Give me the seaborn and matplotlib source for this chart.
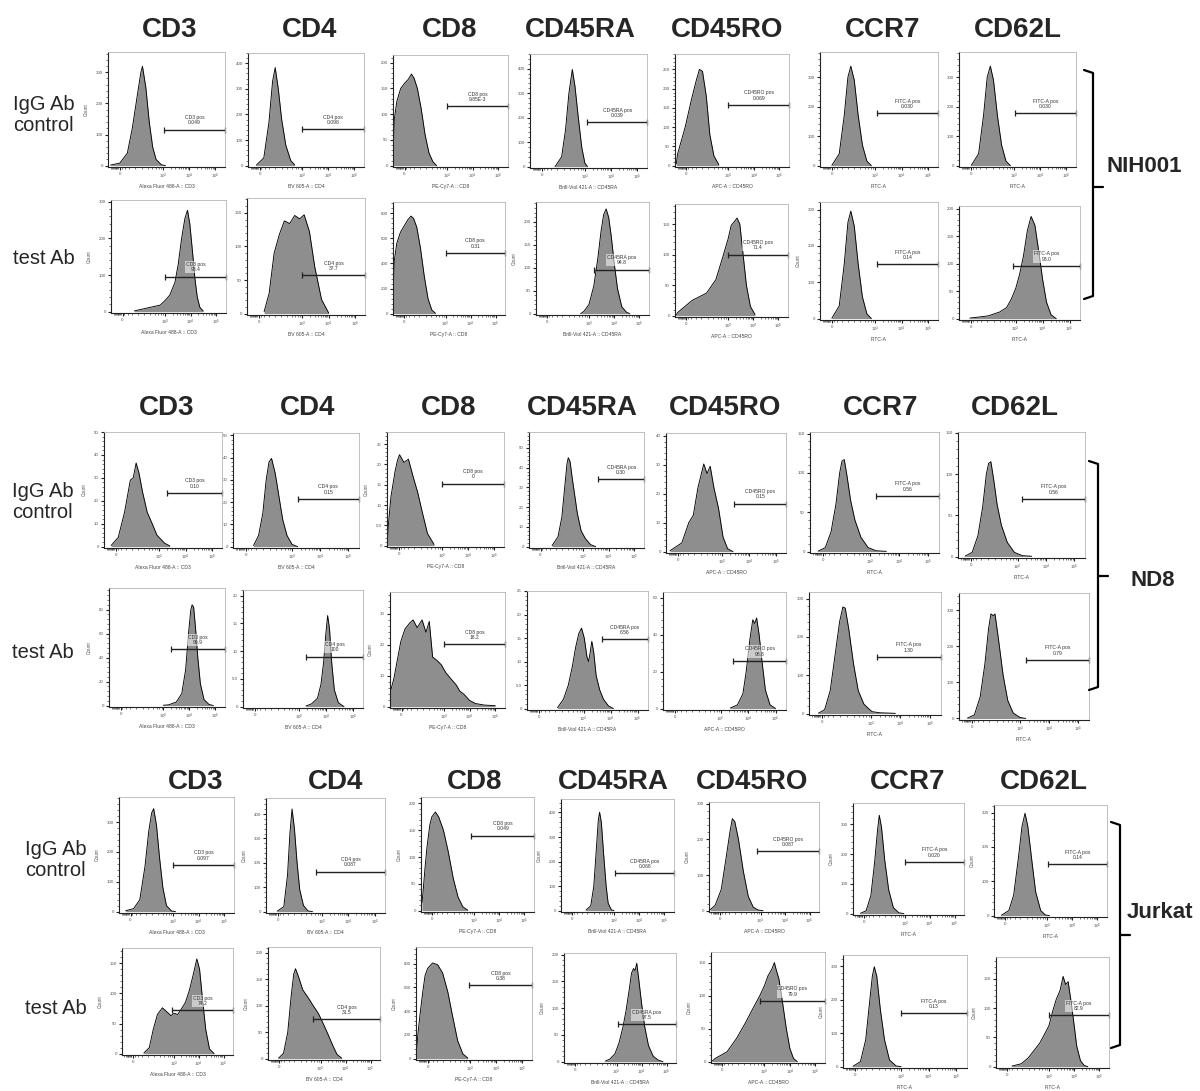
import matplotlib
matplotlib.use('Agg')
import matplotlib.pyplot as plt
from matplotlib.lines import Line2D
from matplotlib.ticker import FixedLocator, FuncFormatter, MultipleLocator, AutoMinorLocator
import seaborn as sns

# マーカーとチャンネル名
markers = ['CD3', 'CD4', 'CD8', 'CD45RA', 'CD45RO', 'CCR7', 'CD62L']
channels = ['Alexa Fluor 488-A :: CD3', 'BV 605-A :: CD4', 'PE-Cy7-A :: CD8',
            'Brill-Viol 421-A :: CD45RA', 'APC-A :: CD45RO', 'FITC-A', 'FITC-A']
gate_names = ['CD3 pos', 'CD4 pos', 'CD8 pos', 'CD45RA pos', 'CD45RO pos', 'FITC-A pos', 'FITC-A pos']
samples = ['NIH001', 'ND8', 'Jurkat']
row_names = ['IgG Ab\ncontrol', 'test Ab']

# x軸: 表示座標 (0 -> 1.35, 10^3 -> 3, 10^4 -> 4, 10^5 -> 5)
x_ticks = [1.35, 3, 4, 5]
x_ticklabels = ['0', '$10^3$', '$10^4$', '$10^5$']

# ---- NIH001 ----
nih_igg_u = [
    [1.0, 1.35, 1.64, 1.83, 2.03, 2.16, 2.22, 2.35, 2.48, 2.61, 2.74, 2.94, 3.1],
    [1.22, 1.51, 1.71, 1.85, 1.95, 2.07, 2.2, 2.36, 2.55, 2.7],
    [0.9, 0.95, 1.05, 1.2, 1.35, 1.5, 1.62, 1.72, 1.85, 2.0, 2.15, 2.3, 2.45, 2.6],
    [1.86, 2.11, 2.26, 2.39, 2.52, 2.62, 2.75, 2.88, 3.0, 3.1],
    [0.95, 1.0, 1.3, 1.54, 1.73, 1.86, 1.98, 2.13, 2.27, 2.43, 2.62],
    [1.35, 1.63, 1.82, 1.96, 2.07, 2.2, 2.35, 2.51, 2.68, 2.85],
    [1.37, 1.65, 1.84, 1.98, 2.1, 2.22, 2.37, 2.53, 2.7, 2.87],
]
nih_igg_n = [
    [2, 8, 40, 120, 230, 300, 319, 250, 140, 60, 20, 3, 0],
    [2, 30, 170, 330, 383, 300, 180, 80, 20, 3],
    [8, 90, 125, 150, 160, 168, 178, 170, 150, 110, 60, 25, 8, 0],
    [0, 40, 150, 300, 397, 330, 200, 80, 15, 0],
    [5, 30, 100, 170, 220, 250, 245, 180, 80, 25, 3],
    [1, 40, 170, 300, 337, 290, 170, 70, 15, 0],
    [1, 40, 170, 300, 337, 290, 170, 70, 15, 0],
]
nih_test_u = [
    [1.81, 2.31, 2.63, 2.82, 3.0, 3.19, 3.39, 3.52, 3.65, 3.78, 3.88, 3.97, 4.08, 4.17, 4.26, 4.36, 4.49],
    [1.55, 1.74, 1.93, 2.13, 2.32, 2.52, 2.71, 2.9, 3.07, 3.27, 3.47, 3.73, 4.0],
    [0.9, 0.95, 1.05, 1.2, 1.35, 1.5, 1.62, 1.72, 1.85, 2.0, 2.15, 2.3, 2.45, 2.6],
    [2.67, 2.8, 3.0, 3.19, 3.35, 3.48, 3.58, 3.68, 3.78, 3.88, 4.0, 4.13, 4.3, 4.49, 4.62],
    [0.95, 1.0, 1.58, 2.15, 2.52, 2.8, 3.0, 3.13, 3.27, 3.36, 3.47, 3.6, 3.73, 3.89, 4.07],
    [1.35, 1.63, 1.82, 1.96, 2.07, 2.2, 2.35, 2.51, 2.68, 2.85],
    [1.3, 1.98, 2.4, 2.66, 2.83, 3.0, 3.14, 3.29, 3.43, 3.57, 3.71, 3.86, 4.0, 4.14, 4.31, 4.5],
]
nih_test_n = [
    [2, 10, 15, 18, 30, 45, 80, 130, 200, 255, 277, 240, 160, 90, 40, 12, 2],
    [3, 30, 90, 118, 138, 134, 146, 141, 147, 122, 70, 21, 1],
    [100, 420, 560, 650, 700, 750, 778, 760, 690, 520, 300, 120, 30, 3],
    [0, 5, 20, 60, 120, 180, 215, 228, 210, 170, 110, 55, 15, 3, 0],
    [1, 5, 25, 37, 59, 97, 125, 148, 155, 160, 150, 100, 50, 15, 2],
    [1, 35, 150, 265, 296, 255, 150, 60, 13, 0],
    [1, 5, 12, 20, 35, 55, 80, 115, 160, 186, 170, 120, 70, 30, 7, 0],
]

# ---- ND8 ----
nd8_igg_u = [
    [1.17, 1.44, 1.68, 1.9, 2.01, 2.12, 2.23, 2.36, 2.54, 2.73, 2.91, 3.2, 3.4],
    [1.63, 1.81, 1.96, 2.08, 2.18, 2.27, 2.4, 2.54, 2.67, 2.82, 3.0, 3.2],
    [0.92, 0.95, 1.05, 1.2, 1.3, 1.38, 1.55, 1.72, 1.9, 2.08, 2.26, 2.45, 2.7],
    [1.8, 2.03, 2.18, 2.29, 2.38, 2.43, 2.5, 2.58, 2.67, 2.78, 2.93, 3.1, 3.3, 3.5],
    [1.05, 1.49, 1.75, 1.92, 2.09, 2.31, 2.43, 2.55, 2.69, 2.86, 3.03, 3.2, 3.4],
    [1.18, 1.43, 1.63, 1.8, 1.93, 2.01, 2.09, 2.19, 2.31, 2.46, 2.67, 2.92, 3.2, 3.55],
    [1.15, 1.4, 1.6, 1.77, 1.9, 1.98, 2.06, 2.16, 2.28, 2.43, 2.64, 2.89, 3.17, 3.5],
]
nd8_igg_n = [
    [0.5, 4, 15, 29, 30, 36.5, 32, 24, 15, 10, 5, 1.5, 0.3],
    [0.5, 5, 15, 30, 38, 39.6, 33, 22, 12, 5, 1, 0],
    [1, 5, 12, 18, 21, 22.4, 20.5, 21.3, 17, 13, 8, 3, 0.3],
    [0.5, 5, 15, 30, 42, 45, 43, 35, 27, 17, 8, 4, 1, 0],
    [0.3, 3, 10, 12.6, 22, 30.3, 27, 29.5, 22, 15, 5, 1, 0],
    [0.5, 5, 25, 60, 100, 115, 117, 95, 65, 40, 18, 5, 1, 0.3],
    [0.5, 5, 25, 60, 100, 113, 115, 93, 63, 38, 17, 5, 1, 0.3],
]
nd8_test_u = [
    [3.0, 3.2, 3.5, 3.71, 3.86, 3.97, 4.06, 4.11, 4.17, 4.24, 4.33, 4.43, 4.57, 4.76, 4.93],
    [3.25, 3.46, 3.68, 3.81, 3.91, 3.99, 4.06, 4.13, 4.21, 4.31, 4.46, 4.67],
    [0.92, 1.05, 1.14, 1.23, 1.32, 1.48, 1.67, 1.8, 1.96, 2.15, 2.3, 2.43, 2.56, 2.72, 2.9, 3.07,
     3.27, 3.48, 3.62, 3.78, 4.0, 4.23, 4.58, 5.0],
    [2.03, 2.25, 2.43, 2.58, 2.7, 2.82, 2.92, 3.02, 3.12, 3.18, 3.24, 3.3, 3.37, 3.46, 3.59, 3.73, 3.91, 4.1],
    [3.35, 3.61, 3.81, 3.93, 4.07, 4.17, 4.24, 4.31, 4.4, 4.51, 4.63, 4.8, 5.0],
    [1.22, 1.43, 1.62, 1.78, 1.94, 2.05, 2.13, 2.25, 2.41, 2.57, 2.76, 2.89, 3.04, 3.3, 3.83],
    [1.19, 1.43, 1.63, 1.79, 1.92, 2.0, 2.08, 2.14, 2.26, 2.42, 2.58, 2.77, 3.0, 3.2],
]
nd8_test_n = [
    [0.3, 0.6, 3, 10, 30, 60, 80, 84, 82, 65, 40, 18, 5, 1, 0],
    [0.1, 0.5, 1.5, 4, 8, 13, 16.4, 14, 8, 3, 0.7, 0],
    [5, 9, 13, 17, 21, 25, 27, 28, 25.5, 28, 24, 27.5, 16, 15, 13.5, 11, 9, 7, 5, 4, 2, 1, 0.5, 0.3],
    [0.2, 2, 5, 9, 13, 16, 17.1, 15, 11, 10, 12, 14.3, 12, 7, 4, 2, 0.6, 0],
    [0.3, 2, 8, 20, 38, 48, 46, 49, 40, 25, 10, 2, 0],
    [1, 10, 60, 150, 240, 278, 275, 220, 130, 60, 25, 15, 5, 2, 0.5],
    [1, 10, 60, 150, 250, 290, 285, 290, 220, 120, 50, 15, 3, 0],
]

# ---- Jurkat ----
jur_igg_u = [
    [1.16, 1.47, 1.71, 1.91, 2.06, 2.17, 2.25, 2.36, 2.48, 2.61, 2.75, 2.95, 3.1],
    [1.32, 1.57, 1.71, 1.8, 1.88, 1.97, 2.07, 2.17, 2.31, 2.48, 2.65],
    [0.94, 0.99, 1.06, 1.14, 1.25, 1.33, 1.47, 1.6, 1.79, 1.98, 2.18, 2.37, 2.56, 2.75],
    [1.89, 2.08, 2.2, 2.3, 2.38, 2.43, 2.5, 2.59, 2.69, 2.77, 2.9, 3.0],
    [0.95, 1.15, 1.4, 1.6, 1.75, 1.85, 1.95, 2.1, 2.3, 2.5, 2.7, 2.9, 3.1],
    [1.2, 1.43, 1.62, 1.77, 1.89, 1.96, 2.05, 2.18, 2.34, 2.53, 2.75, 2.95],
    [1.19, 1.49, 1.68, 1.87, 2.01, 2.13, 2.24, 2.4, 2.55, 2.75, 2.94, 3.1],
]
jur_igg_n = [
    [3, 10, 40, 150, 270, 330, 345, 290, 180, 80, 20, 2, 0],
    [2, 20, 150, 320, 421, 340, 200, 90, 25, 3, 0],
    [15, 40, 80, 120, 160, 175, 184, 175, 150, 110, 60, 25, 7, 1],
    [2, 20, 100, 250, 370, 401, 360, 230, 100, 30, 3, 0],
    [3, 15, 60, 150, 220, 258, 250, 200, 110, 40, 10, 2, 0],
    [1, 10, 60, 170, 280, 330, 290, 180, 80, 20, 3, 0],
    [1, 15, 60, 170, 260, 298, 260, 160, 70, 15, 2, 0],
]
jur_test_u = [
    [1.78, 2.0, 2.16, 2.33, 2.53, 2.69, 2.88, 3.0, 3.15, 3.31, 3.46, 3.62, 3.77, 3.92, 4.03, 4.15, 4.28, 4.43, 4.62],
    [1.32, 1.52, 1.69, 1.83, 1.93, 2.0, 2.12, 2.29, 2.51, 2.71, 2.92, 3.12, 3.31, 3.49, 3.66, 3.85],
    [0.92, 0.97, 1.06, 1.16, 1.25, 1.35, 1.54, 1.74, 1.93, 2.13, 2.32, 2.51, 2.71, 2.9],
    [2.55, 2.74, 2.94, 3.1, 3.26, 3.38, 3.51, 3.6, 3.68, 3.74, 3.81, 3.9, 4.0, 4.13, 4.28, 4.47, 4.67, 4.86],
    [0.95, 1.07, 1.53, 1.9, 2.27, 2.54, 2.82, 3.0, 3.14, 3.29, 3.39, 3.47, 3.57, 3.71, 3.86, 4.0, 4.14, 4.29],
    [1.26, 1.53, 1.72, 1.87, 1.96, 2.03, 2.12, 2.25, 2.4, 2.58, 2.82, 3.0],
    [1.53, 1.9, 2.18, 2.45, 2.63, 2.82, 3.0, 3.15, 3.29, 3.44, 3.56, 3.66, 3.76, 3.88, 4.0, 4.1, 4.25, 4.4, 4.54],
]
jur_test_n = [
    [1, 10, 40, 65, 76, 70, 63, 67, 65, 75, 85, 105, 130, 157, 140, 90, 40, 8, 0],
    [1, 10, 50, 120, 160, 170, 155, 130, 115, 100, 85, 65, 45, 25, 8, 1],
    [60, 200, 380, 560, 700, 760, 806, 790, 720, 560, 350, 150, 40, 5],
    [1, 5, 15, 35, 65, 95, 135, 165, 174, 170, 184, 150, 110, 65, 30, 10, 3, 0],
    [1, 5, 15, 35, 60, 80, 100, 115, 130, 140, 150, 138, 125, 90, 50, 20, 5, 0],
    [1, 15, 80, 200, 270, 298, 270, 170, 80, 20, 2, 0],
    [1, 5, 15, 30, 40, 55, 70, 95, 115, 130, 154, 140, 145, 110, 70, 35, 10, 2, 0],
]

# ゲート (開始位置, 高さ, 値)
gate_start = [
    [3.04, 3.0, 3.0, 3.1, 3.0, 3.05, 3.05], [3.0, 3.0, 3.0, 3.19, 3.0, 3.05, 2.9],
    [3.3, 3.2, 3.0, 3.6, 3.45, 3.2, 3.15], [3.28, 3.25, 3.0, 3.67, 3.45, 3.2, 3.2],
    [3.0, 2.78, 2.9, 3.05, 2.85, 3.0, 3.05], [2.93, 2.7, 2.95, 3.04, 2.82, 3.0, 3.0],
]
gate_level = [
    [116, 142, 115, 182, 158, 178, 178], [96, 57, 485, 96, 100, 150, 96],
    [23.4, 21.4, 15.3, 34, 16.6, 71, 70], [47, 9, 20.1, 14.7, 25.8, 148, 163],
    [156, 164, 140, 153, 167, 173, 150], [72, 74, 616, 70, 92, 159, 88],
]
gate_value = [
    ['0.049', '0.098', '9.85E-3', '0.039', '0.069', '0.030', '0.030'],
    ['93.4', '37.7', '0.31', '94.8', '71.4', '0.14', '93.0'],
    ['0.10', '0.15', '0', '0.30', '0.15', '0.56', '0.56'],
    ['99.9', '100', '18.2', '6.56', '98.8', '1.30', '0.79'],
    ['0.097', '0.087', '0.049', '0.068', '0.087', '0.020', '0.14'],
    ['74.2', '31.5', '0.38', '97.5', '79.9', '0.13', '82.9'],
]

# y軸の上限と目盛り間隔
y_max = [
    [365, 440, 215, 460, 290, 385, 385], [305, 172, 890, 243, 183, 321, 205],
    [50, 51, 28, 58, 41, 152, 151], [98, 21, 37, 25, 63, 317, 348],
    [384, 466, 212, 455, 305, 371, 322], [175, 211, 940, 203, 166, 333, 187],
]
y_step = [
    [100, 100, 50, 100, 50, 100, 100], [100, 50, 200, 50, 50, 100, 50],
    [10, 10, 5, 10, 10, 50, 50], [20, 5, 10, 5, 20, 100, 100],
    [100, 100, 50, 100, 100, 100, 100], [50, 50, 200, 50, 50, 100, 50],
]

curves_u = [nih_igg_u, nih_test_u, nd8_igg_u, nd8_test_u, jur_igg_u, jur_test_u]
curves_n = [nih_igg_n, nih_test_n, nd8_igg_n, nd8_test_n, jur_igg_n, jur_test_n]

# ---- レイアウト (ピクセル: 左, 右, 上, 下) ----
W, H = 1200, 1091
boxes = [
    [(108, 225, 52, 167), (248, 364, 53, 167), (393, 508, 55, 167), (530, 647, 54, 168),
     (675, 789, 54, 167), (820, 938, 52, 167), (959, 1076, 52, 167)],
    [(111, 226, 200, 313), (247, 365, 198, 315), (393, 505, 202, 315), (536, 649, 202, 315),
     (675, 788, 204, 317), (820, 938, 202, 320), (959, 1080, 206, 320)],
    [(104, 222, 432, 548), (233, 359, 433, 548), (387, 504, 432, 547), (529, 644, 432, 548),
     (666, 786, 433, 553), (810, 939, 432, 553), (958, 1085, 432, 558)],
    [(109, 225, 588, 707), (243, 363, 590, 708), (390, 505, 592, 708), (527, 648, 591, 710),
     (663, 786, 592, 710), (809, 941, 592, 715), (959, 1089, 593, 720)],
    [(119, 234, 797, 913), (266, 385, 798, 913), (421, 534, 797, 912), (561, 674, 799, 912),
     (709, 819, 802, 912), (853, 964, 803, 915), (994, 1107, 805, 917)],
    [(122, 233, 948, 1055), (268, 380, 947, 1060), (416, 532, 947, 1060), (564, 676, 953, 1063),
     (711, 825, 952, 1063), (843, 967, 955, 1068), (996, 1109, 957, 1068)],
]
show_count = [
    [1, 0, 0, 0, 0, 0, 0], [1, 0, 0, 1, 0, 1, 0],
    [1, 0, 1, 0, 0, 0, 0], [1, 0, 1, 0, 0, 0, 0],
    [1, 1, 1, 1, 1, 1, 1], [1, 1, 1, 1, 1, 1, 1],
]
title_x = [[170, 310, 450, 580, 727, 883, 1018],
           [167, 308, 449, 582, 725, 881, 1015],
           [196, 336, 475, 613, 752, 908, 1044]]
title_y = [30, 408, 782]
row_x = [13, 12, 25]
row_y = [(115, 258), (502, 653), (860, 1008)]
brackets = [(1093, 70, 299, 187), (1098, 461, 690, 576), (1120, 822, 1048, 935)]
sample_xy = [(1107, 167), (1130, 580), (1127, 912)]

X_LEFT, X_RIGHT = 0.9, 5.38
FILL = '#8e8e8e'
minor_x = [1.0, 1.06, 1.1, 1.13, 1.16, 1.19, 1.22, 1.25, 1.28, 1.42, 1.55, 1.72, 1.95, 2.2,
           2.42, 2.6, 2.74, 2.85, 2.93] + [3 + d for d in (0.301, 0.477, 0.602, 0.699, 0.778, 0.845, 0.903, 0.954)] \
          + [4 + d for d in (0.301, 0.477, 0.602, 0.699, 0.778, 0.845, 0.903, 0.954)]

sns.set_theme(style='white')
plt.rcParams['font.family'] = ['Liberation Sans', 'DejaVu Sans']
plt.rcParams['mathtext.fontset'] = 'custom'
plt.rcParams['mathtext.rm'] = 'Liberation Sans'


def fmt_y(v, pos):
    if v == 0:
        return '0'
    if v < 10:
        return f'{v:.1f}'
    return f'{v:g}'


def px_to_fig(x, y):
    return x / W, 1 - y / H


fig = plt.figure(figsize=(W / 100, H / 100), dpi=100)

for r in range(6):
    for c in range(7):
        x0, x1, y0, y1 = boxes[r][c]
        ax = fig.add_axes([x0 / W, 1 - y1 / H, (x1 - x0) / W, (y1 - y0) / H])
        u = curves_u[r][c]
        n = curves_n[r][c]
        ax.fill_between(u, n, 0, color=FILL, lw=0)
        sns.lineplot(x=u, y=n, ax=ax, color='black', lw=0.65, sort=False)

        ymax = y_max[r][c]
        ax.set_xlim(X_LEFT, X_RIGHT)
        ax.set_ylim(-ymax * 0.012, ymax)

        # ゲート
        gx, gy = gate_start[r][c], gate_level[r][c]
        ax.plot([gx, X_RIGHT], [gy, gy], color='#222222', lw=1.0, marker='|', ms=5, mew=0.9,
                clip_on=False, solid_capstyle='butt')
        ax.annotate(f'{gate_names[c]}\n{gate_value[r][c]}', xy=((gx + X_RIGHT) / 2, gy),
                    xytext=(0, 3), textcoords='offset points', ha='center', va='bottom',
                    fontsize=3.6, color='#333333', linespacing=1.1,
                    bbox=dict(facecolor='white', alpha=0.55, edgecolor='none', pad=0.6))

        # 軸
        ax.xaxis.set_major_locator(FixedLocator(x_ticks))
        ax.set_xticklabels(x_ticklabels)
        ax.xaxis.set_minor_locator(FixedLocator(minor_x))
        ax.yaxis.set_major_locator(MultipleLocator(y_step[r][c]))
        ax.yaxis.set_minor_locator(AutoMinorLocator(5))
        ax.yaxis.set_major_formatter(FuncFormatter(fmt_y))
        ax.tick_params(which='major', direction='out', length=2.2, width=0.8, labelsize=3.2,
                       labelcolor='#555555', color='#222222', pad=1.5,
                       bottom=True, left=True)
        ax.tick_params(which='minor', direction='out', length=1.2, width=0.5, color='#444444',
                       bottom=True, left=True)
        for side in ('top', 'right'):
            ax.spines[side].set_color('#b5b5b5')
            ax.spines[side].set_linewidth(0.6)
        for side in ('left', 'bottom'):
            ax.spines[side].set_color('#222222')
            ax.spines[side].set_linewidth(0.8)
        ax.set_xlabel(channels[c], fontsize=3.6, color='#444444', labelpad=2)
        if show_count[r][c]:
            ax.set_ylabel('Count', fontsize=3.4, color='#555555', labelpad=5)
        else:
            ax.set_ylabel('')
        ax.grid(False)

# 見出し
for g in range(3):
    for c in range(7):
        fx, fy = px_to_fig(title_x[g][c], title_y[g])
        fig.text(fx, fy, markers[c], ha='center', va='center', fontsize=20, fontweight='bold')
    fx, fy = px_to_fig(row_x[g], row_y[g][0])
    fig.text(fx, fy, row_names[0], ha='left', va='center', fontsize=14.5, linespacing=1.15)
    fx, fy = px_to_fig(row_x[g], row_y[g][1])
    fig.text(fx, fy, row_names[1], ha='left', va='center', fontsize=14.5)

    bx, btop, bbot, bmid = brackets[g]
    xs = [bx - 9, bx, bx, bx - 9]
    ys = [btop, btop + 3, bbot - 3, bbot]
    fig.add_artist(Line2D([x / W for x in xs], [1 - y / H for y in ys], color='black', lw=1.6))
    fig.add_artist(Line2D([bx / W, (bx + 10) / W], [1 - bmid / H, 1 - bmid / H], color='black', lw=1.6))

    fx, fy = px_to_fig(*sample_xy[g])
    fig.text(fx, fy, samples[g], ha='left', va='center', fontsize=16, fontweight='bold')

fig.savefig('out.png', dpi=100, facecolor='white')
